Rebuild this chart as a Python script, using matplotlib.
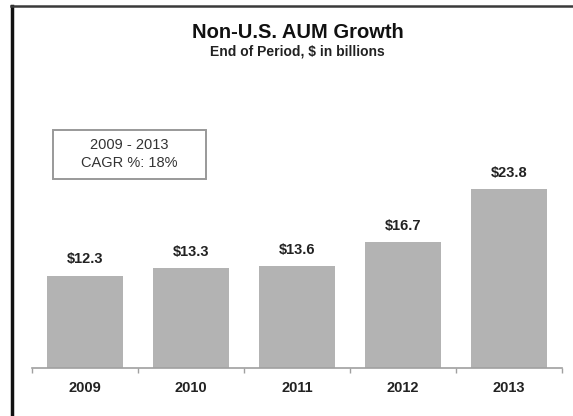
import matplotlib
matplotlib.use("Agg")
import matplotlib.pyplot as plt
from matplotlib.lines import Line2D
from matplotlib.patches import Rectangle

plt.rcParams['font.family'] = ['Liberation Sans', 'DejaVu Sans']

years = ["2009", "2010", "2011", "2012", "2013"]
values = [12.3, 13.3, 13.6, 16.7, 23.8]
labels = ["$12.3", "$13.3", "$13.6", "$16.7", "$23.8"]

W, H = 573, 416
fig = plt.figure(figsize=(W/100, H/100), dpi=100)
ax_bottom = 368
ax_top = 100
ax = fig.add_axes([32/W, 1-ax_bottom/H, (562-32)/W, (ax_bottom-ax_top)/H])

x = range(len(years))
ax.bar(x, values, width=0.72, color="#b3b3b3", zorder=2)
for i, (v, lab) in enumerate(zip(values, labels)):
    ax.annotate(lab, (i, v), xytext=(0, 6.5), textcoords="offset points",
                ha="center", va="bottom", fontsize=10.5, fontweight="bold", color="#222222")

ax.set_xlim(-0.5, len(years)-0.5)
ax.set_ylim(0, (ax_bottom-ax_top)/7.52)
for s in ["top", "right", "left"]:
    ax.spines[s].set_visible(False)
ax.spines["bottom"].set_color("#a0a0a0")
ax.spines["bottom"].set_linewidth(1.2)
ax.set_yticks([])
ax.set_xticks([i - 0.5 for i in range(len(years)+1)], minor=False)
ax.set_xticklabels([])
ax.tick_params(axis="x", which="major", length=3.5, color="#a0a0a0", width=1)
ax.set_xticks(list(x), minor=True)
ax.set_xticklabels(years, minor=True, fontsize=10.5, fontweight="bold", color="#222222")
ax.tick_params(axis="x", which="minor", length=0, pad=9)

fig.text(298/W, 1-32/H, "Non-U.S. AUM Growth", ha="center", va="center",
         fontsize=14.5, fontweight="bold", color="#111111")
fig.text(297/W, 1-51/H, "End of Period, $ in billions", ha="center", va="center",
         fontsize=10, fontweight="bold", color="#222222")

fig.add_artist(Rectangle((53/W, 1-179/H), (206-53)/W, (179-130)/H,
                         transform=fig.transFigure, fc="white", ec="#999999", lw=1.4))
fig.text(129/W, 1-154/H, "2009 - 2013\nCAGR %: 18%", ha="center", va="center",
         fontsize=10.5, color="#333333", linespacing=1.3)

fig.add_artist(Line2D([12/W, 12/W], [0, 1-6/H], transform=fig.transFigure,
                      color="#111111", lw=2.5))
fig.add_artist(Line2D([11/W, 1], [1-6/H, 1-6/H], transform=fig.transFigure,
                      color="#3a3a3a", lw=1.8))

fig.savefig("out.png", dpi=100)
